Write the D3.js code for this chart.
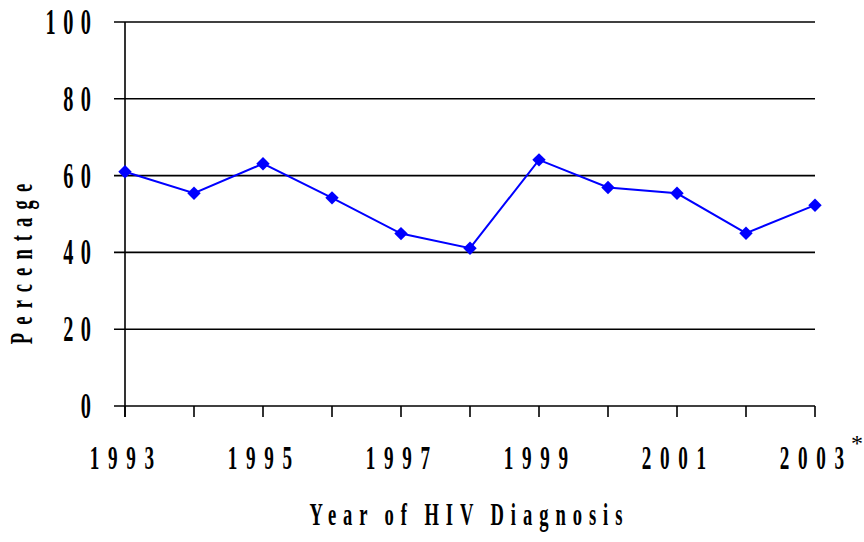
<!DOCTYPE html>
<html>
<head>
<meta charset="utf-8">
<script src="https://cdn.jsdelivr.net/npm/d3@7"></script>
<style>
  body { margin: 0; background: #fff; }
  text { font-family: "Liberation Serif", "Times New Roman", serif; font-weight: bold; fill: #000; }
</style>
</head>
<body>
<div id="chart"></div>
<script>
var svgWidth = 864;
var svgHeight = 542;

var years = [1993, 1994, 1995, 1996, 1997, 1998, 1999, 2000, 2001, 2002, 2003];
var percentages = [61.0, 55.4, 63.1, 54.2, 44.9, 41.1, 64.1, 56.9, 55.4, 45.0, 52.3];
var yTicks = [0, 20, 40, 60, 80, 100];
var xLabelYears = [1993, 1995, 1997, 1999, 2001, 2003];

var margin = { top: 22, right: 49, bottom: 136, left: 125 };
var width = svgWidth - margin.left - margin.right;
var height = svgHeight - margin.top - margin.bottom;

// the source font is a tall, narrow bold serif
var squash = 0.58;

var svg = d3.select("#chart")
  .append("svg")
  .attr("width", svgWidth)
  .attr("height", svgHeight);

var chartGroup = svg.append("g")
  .attr("transform", `translate(${margin.left}, ${margin.top})`);

var xScale = d3.scaleLinear()
  .domain([1993, 2003])
  .range([0, width]);

var yScale = d3.scaleLinear()
  .domain([0, 100])
  .range([height, 0]);

// horizontal gridlines (with the little outside tick on the left)
chartGroup.selectAll(".grid")
  .data(yTicks)
  .enter()
  .append("line")
  .attr("x1", -11)
  .attr("x2", width)
  .attr("y1", d => yScale(d))
  .attr("y2", d => yScale(d))
  .attr("stroke", "#000")
  .attr("stroke-width", 1.6);

// vertical axis line
chartGroup.append("line")
  .attr("x1", 0).attr("x2", 0)
  .attr("y1", 0).attr("y2", height + 11)
  .attr("stroke", "#000")
  .attr("stroke-width", 1.6);

// x ticks, one per year
chartGroup.selectAll(".xtick")
  .data(years)
  .enter()
  .append("line")
  .attr("x1", d => xScale(d))
  .attr("x2", d => xScale(d))
  .attr("y1", height)
  .attr("y2", height + 11)
  .attr("stroke", "#000")
  .attr("stroke-width", 1.6);

// y tick labels
chartGroup.selectAll(".ylab")
  .data(yTicks)
  .enter()
  .append("text")
  .attr("transform", d => `translate(-34, ${yScale(d) + 12}) scale(${squash}, 1)`)
  .attr("text-anchor", "end")
  .attr("dx", "13px")
  .style("font-size", "35px")
  .style("letter-spacing", "13px")
  .text(d => d);

// x tick labels
chartGroup.selectAll(".xlab")
  .data(xLabelYears)
  .enter()
  .append("text")
  .attr("transform", d => `translate(${xScale(d) - 3}, ${height + 63}) scale(${squash}, 1)`)
  .attr("text-anchor", "middle")
  .attr("dx", "7.5px")
  .style("font-size", "33px")
  .style("letter-spacing", "15px")
  .text(d => d);

// asterisk on the last year
chartGroup.append("text")
  .attr("x", xScale(2003) + 36)
  .attr("y", height + 45)
  .style("font-weight", "normal")
  .style("font-size", "24px")
  .text("*");

// axis titles
svg.append("text")
  .attr("transform", `translate(466, 525) scale(${squash}, 1)`)
  .attr("text-anchor", "middle")
  .attr("dx", "6px")
  .style("font-size", "32px")
  .style("letter-spacing", "12px")
  .style("word-spacing", "-2px")
  .text("Year of HIV Diagnosis");

svg.append("text")
  .attr("transform", `translate(32, 264) rotate(-90) scale(${squash}, 1)`)
  .attr("text-anchor", "middle")
  .attr("dx", "7px")
  .style("font-size", "32px")
  .style("letter-spacing", "14px")
  .text("Percentage");

// the data line
var line = d3.line()
  .x((d, i) => xScale(years[i]))
  .y(d => yScale(d));

chartGroup.append("path")
  .datum(percentages)
  .attr("d", line)
  .attr("fill", "none")
  .attr("stroke", "#0000ff")
  .attr("stroke-width", 2);

var marker = d3.symbol().type(d3.symbolSquare).size(90);

chartGroup.selectAll(".point")
  .data(percentages)
  .enter()
  .append("path")
  .attr("d", marker)
  .attr("transform", (d, i) => `translate(${xScale(years[i])}, ${yScale(d)}) rotate(45)`)
  .attr("fill", "#0000ff");
</script>
</body>
</html>
